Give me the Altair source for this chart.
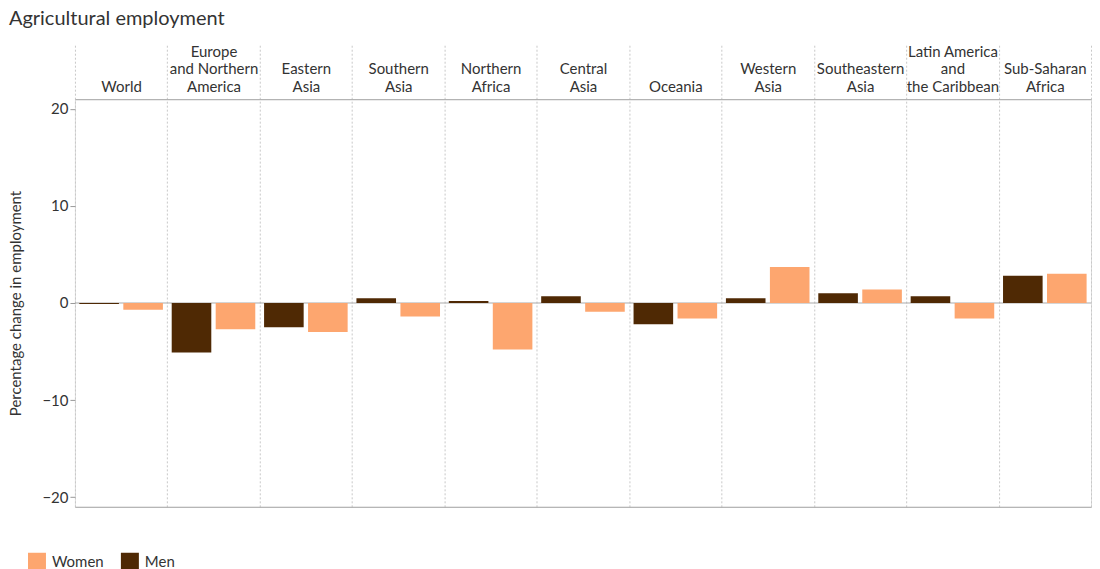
import json
import altair as alt
import pandas as pd

regions = [
    "World", "Europe and Northern America", "Eastern Asia", "Southern Asia",
    "Northern Africa", "Central Asia", "Oceania", "Western Asia",
    "Southeastern Asia", "Latin America and the Caribbean", "Sub-Saharan Africa",
]
B = "\u2800"
header_lines = [
    [B, B, "World"], ["Europe", "and Northern", "America"], [B, "Eastern", "Asia"],
    [B, "Southern", "Asia"], [B, "Northern", "Africa"], [B, "Central", "Asia"],
    [B, B, "Oceania"], [B, "Western", "Asia"], [B, "Southeastern", "Asia"],
    ["Latin America", "and", "the Caribbean"], [B, "Sub-Saharan", "Africa"],
]
men = [-0.1, -5.1, -2.5, 0.5, 0.2, 0.7, -2.2, 0.5, 1.0, 0.7, 2.8]
women = [-0.7, -2.7, -3.0, -1.4, -4.8, -0.9, -1.6, 3.7, 1.4, -1.6, 3.0]
genders = ["Women", "Men"]
colors = ["#FDA66F", "#4F2904"]

rows = []
for r, m, w in zip(regions, men, women):
    rows.append({"region": r, "gender": "Men", "value": m})
    rows.append({"region": r, "gender": "Women", "value": w})
df = pd.DataFrame(rows)

FONT = "Lato"
label_expr = (
    json.dumps(header_lines) + "[indexof(" + json.dumps(regions) + ", datum.value)]"
)

y_scale = alt.Scale(domain=[-21, 21], nice=False, zero=False)
x_scale = alt.Scale(paddingInner=0, paddingOuter=0)
off_scale = alt.Scale(paddingInner=0.1, paddingOuter=0.1)

y_axis = alt.Axis(
    values=[-20, -10, 0, 10, 20], title="Percentage change in employment",
    grid=False, domain=False, tickColor="#999999", tickSize=5,
    labelFont=FONT, labelFontSize=15, labelColor="#333333", labelPadding=2,
    titleFont=FONT, titleFontSize=15, titleFontWeight="normal",
    titleColor="#333333", titlePadding=18,
)

zero = alt.Chart(pd.DataFrame({"value": [0]})).mark_rule(color="#aaaaaa", strokeWidth=1).encode(
    y=alt.Y("value:Q", scale=y_scale, axis=y_axis)
)

bars = alt.Chart(df).mark_bar().encode(
    x=alt.X(
        "region:N", sort=regions, scale=x_scale,
        axis=alt.Axis(
            orient="top", title=None, labelExpr=label_expr, tickBand="extent",
            tickSize=55, tickColor="#c8c8c8", tickDash=[2, 2], tickWidth=1,
            grid=True, gridColor="#c8c8c8", gridDash=[2, 2], gridWidth=1,
            domain=True, domainColor="#aaaaaa", labelPadding=-15, labelAngle=0,
            labelBaseline="bottom", labelAlign="center", labelFont=FONT,
            labelFontSize=15, labelColor="#333333", labelLineHeight=17.5,
            labelOverlap=False, labelLimit=300,
        ),
    ),
    xOffset=alt.XOffset("gender:N", sort=["Men", "Women"], scale=off_scale),
    y=alt.Y("value:Q", scale=y_scale, axis=y_axis),
    color=alt.Color(
        "gender:N", scale=alt.Scale(domain=genders, range=colors),
        legend=alt.Legend(
            title=None, orient="none", legendX=-47, legendY=454, direction="horizontal",
            symbolType="square", symbolSize=324, symbolStrokeWidth=0, symbolOpacity=1,
            labelFont=FONT, labelFontSize=15, labelColor="#333333", labelOffset=6,
            columnPadding=17,
        ),
    ),
)

bottom = alt.Chart(df).mark_bar(opacity=0).encode(
    x=alt.X(
        "region:N", sort=regions, scale=x_scale,
        axis=alt.Axis(orient="bottom", labels=False, ticks=False, grid=False,
                      domain=True, domainColor="#aaaaaa", title=None),
    ),
    xOffset=alt.XOffset("gender:N", sort=["Men", "Women"], scale=off_scale),
    y=alt.Y("value:Q", scale=y_scale, axis=y_axis),
)

chart = alt.layer(zero, bars, bottom).properties(
    width=1017, height=408,
    title=alt.Title("Agricultural employment", anchor="start", frame="bounds",
                    fontSize=20, font=FONT, fontWeight="normal", color="#333333",
                    offset=15),
).configure_view(stroke=None).configure(background="white", padding=0)

chart.save("out.html", embed_options={"renderer": "svg", "actions": False})
